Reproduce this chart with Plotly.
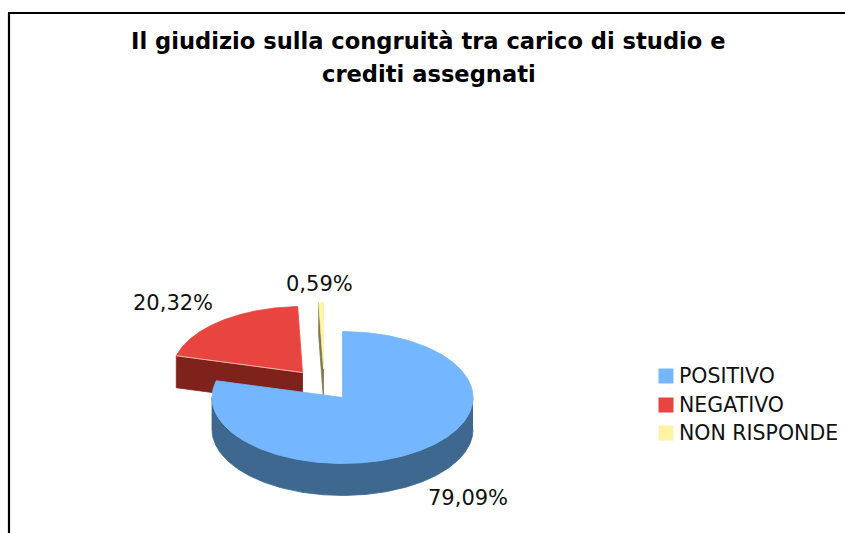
import numpy as np
import plotly.graph_objects as go

categories = ["POSITIVO", "NEGATIVO", "NON RISPONDE"]
values = [79.09, 20.32, 0.59]
labels = ["79,09%", "20,32%", "0,59%"]
title_lines = ["Il giudizio sulla congruità tra carico di studio e", "crediti assegnati"]

top_colors = ["#74b6ff", "#e84540", "#fff3a6"]
side_colors = ["#3f6890", "#80221c", "#7d7850"]

# pie geometry, in page pixels
CX, CY, RX, RY, DEPTH = 342.5, 397.5, 130.5, 66, 32
offsets = [(0, 0), (-40, -25), (-19, -29)]
label_pos = [(467.5, 498), (173, 303), (319, 284)]
legend_x, legend_y = 666, [376, 405, 433]

def rim(a0, a1, ox, oy, dz=0, n=240):
    t = np.radians(np.linspace(a0, a1, n))
    return CX + ox + RX * np.sin(t), CY + oy - RY * np.cos(t) + dz

def poly(x, y, color, line=None):
    return go.Scatter(x=x, y=y, mode="lines", fill="toself", fillcolor=color,
                      line=dict(color=line or color, width=0.8),
                      showlegend=False, hoverinfo="skip")

edges = np.concatenate([[0], np.cumsum(values)]) * 3.6
fig = go.Figure()

# negative slice: cut face, then top
for i in (1, 2):
    a0, a1 = edges[i], edges[i + 1]
    ox, oy = offsets[i]
    xr, yr = rim(a0, a0, ox, oy, n=1)
    ax, ay = CX + ox, CY + oy
    fig.add_trace(poly([xr[0], ax, ax, xr[0], xr[0]],
                       [yr[0], ay, ay + DEPTH, yr[0] + DEPTH, yr[0]],
                       side_colors[i]))
    x, y = rim(a0, a1, ox, oy)
    fig.add_trace(poly(np.r_[ax, x, ax], np.r_[ay, y, ay], top_colors[i]))
    if i == 1:
        fig.add_trace(go.Scatter(x=[xr[0], ax], y=[yr[0], ay], mode="lines",
                                 line=dict(color="#f0b8b0", width=1),
                                 showlegend=False, hoverinfo="skip"))

# positive slice: outer wall, then top
x, y = rim(90, 270, 0, 0)
xb, yb = rim(270, 90, 0, 0, DEPTH)
fig.add_trace(poly(np.r_[x, xb], np.r_[y, yb], side_colors[0]))
x, y = rim(edges[0], edges[1], 0, 0)
fig.add_trace(poly(np.r_[CX, x, CX], np.r_[CY, y, CY], top_colors[0]))

# value labels
for text, (lx, ly) in zip(labels, label_pos):
    fig.add_annotation(x=lx, y=ly, text=text, showarrow=False,
                       font=dict(family="DejaVu Sans", size=21, color="#111111"))

# legend
fig.add_trace(go.Scatter(x=[legend_x] * 3, y=legend_y, mode="markers",
                         marker=dict(symbol="square", size=15, color=top_colors),
                         showlegend=False, hoverinfo="skip"))
for name, ly in zip(categories, legend_y):
    fig.add_annotation(x=677, y=ly, text=name, showarrow=False, xanchor="left",
                       font=dict(family="DejaVu Sans", size=20.5, color="#111111"))

# title
for line, ly in zip(title_lines, [41, 74]):
    fig.add_annotation(x=428.5, y=ly, text=f"<b>{line}</b>", showarrow=False,
                       font=dict(family="DejaVu Sans", size=22.6, color="#000000"))

fig.update_layout(
    width=845, height=533, margin=dict(l=0, r=0, t=0, b=0),
    paper_bgcolor="white", plot_bgcolor="white", showlegend=False,
    xaxis=dict(range=[0, 845], visible=False, fixedrange=True),
    yaxis=dict(range=[533, 0], visible=False, fixedrange=True),
    shapes=[
        dict(type="line", xref="x", yref="y", x0=9, y0=533, x1=9, y1=13,
             line=dict(color="black", width=2.2)),
        dict(type="line", xref="x", yref="y", x0=8, y0=13, x1=845, y1=13,
             line=dict(color="black", width=2.2)),
    ],
)
fig.write_html("out.html", config={"displayModeBar": False},
               post_script="document.body.style.margin='0';document.body.style.overflow='hidden';")
